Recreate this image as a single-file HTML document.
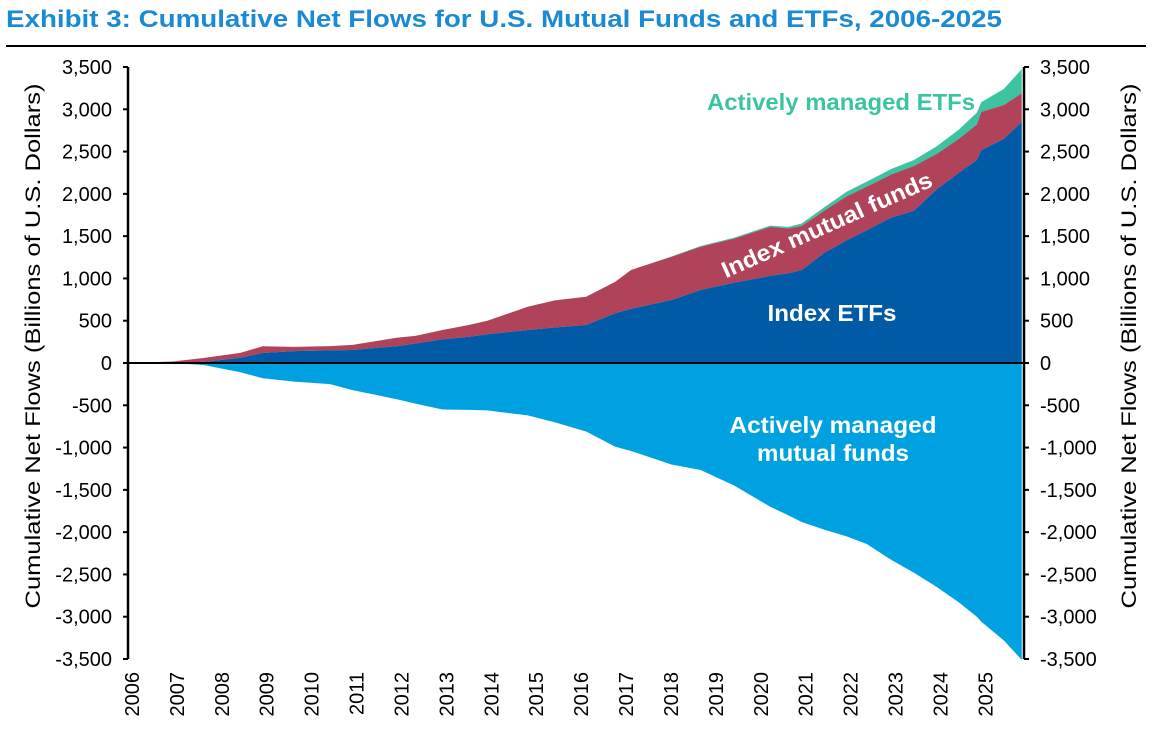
<!DOCTYPE html>
<html><head><meta charset="utf-8"><style>
body{margin:0;background:#fff;}
svg text{font-family:"Liberation Sans",Arial,sans-serif;}
</style></head><body>
<svg id="chart" width="1156" height="733" viewBox="0 0 1156 733" xmlns="http://www.w3.org/2000/svg">
<text x="6" y="27" font-size="24" font-weight="bold" fill="#1a8ad4" textLength="996" lengthAdjust="spacingAndGlyphs">Exhibit 3: Cumulative Net Flows for U.S. Mutual Funds and ETFs, 2006-2025</text>
<line x1="6" y1="46" x2="1146" y2="46" stroke="#000" stroke-width="2"/>
<g id="plot"></g>
<text transform="translate(40,346) rotate(-90)" text-anchor="middle" font-size="21" fill="#000" textLength="525" lengthAdjust="spacingAndGlyphs">Cumulative Net Flows (Billions of U.S. Dollars)</text>
<text transform="translate(1136,346) rotate(-90)" text-anchor="middle" font-size="21" fill="#000" textLength="525" lengthAdjust="spacingAndGlyphs">Cumulative Net Flows (Billions of U.S. Dollars)</text>
</svg>
<script>
const years = [2006,2007,2007.7,2008.5,2009,2009.7,2010.5,2011,2012,2012.4,2013,2013.6,2014,2014.9,2015.5,2016.2,2016.85,2017.2,2018.1,2018.75,2019.5,2020.3,2020.7,2021,2021.5,2022,2022.45,2023,2023.5,2024,2024.5,2024.9,2025,2025.5,2025.9];
const indexEtfs = [0,3,15,60,118,140,150,154,200,230,280,311,340,390,420,450,590,640,745,863,950,1030,1060,1100,1300,1450,1570,1720,1800,2050,2250,2400,2517,2650,2850];
const indexMutualFunds = [0,15,45,60,80,50,50,60,100,90,110,140,160,275,320,334,370,460,510,512,520,580,530,520,500,520,515,510,530,420,400,420,453,400,340];
const activeEtfs = [0,0,0,0,0,0,0,0,0,0,0,0,0,0,0,0,0,0,5,8,12,15,20,30,40,55,60,65,70,90,110,140,115,190,285];
const activeMutualFunds = [0,0,-25,-110,-180,-220,-250,-320,-430,-480,-550,-555,-560,-620,-700,-810,-990,-1040,-1200,-1265,-1450,-1700,-1800,-1880,-1970,-2050,-2140,-2330,-2480,-2645,-2830,-3000,-3060,-3280,-3510];
const yTicks = [3500,3000,2500,2000,1500,1000,500,0,-500,-1000,-1500,-2000,-2500,-3000,-3500];
const xTickYears = [2006,2007,2008,2009,2010,2011,2012,2013,2014,2015,2016,2017,2018,2019,2020,2021,2022,2023,2024,2025];

const X0=128, X1=1024, Y0=67, Y1=659;
const x = t => X0 + (t-2006)*(X1-X0)/(2025.95-2006);
const y = v => Y0 + (3500-v)*(Y1-Y0)/7000;
const NS='http://www.w3.org/2000/svg';
const plot=document.getElementById('plot');
function mk(tag,attrs){const e=document.createElementNS(NS,tag);for(const k in attrs)e.setAttribute(k,attrs[k]);plot.appendChild(e);return e;}
function band(lo,hi,fill,name){
  let d='M'+x(years[0])+','+y(hi[0]);
  for(let i=1;i<years.length;i++) d+='L'+x(years[i])+','+y(hi[i]);
  for(let i=years.length-1;i>=0;i--) d+='L'+x(years[i])+','+y(lo[i]);
  const p=mk('path',{d:d+'Z',fill:fill});
  
  
}
const zero=years.map(()=>0);
const s1=indexEtfs;
const s2=indexEtfs.map((v,i)=>v+indexMutualFunds[i]);
const s3=s2.map((v,i)=>v+activeEtfs[i]);
band(s2,s3,'#3cc4a0','area-active-etfs');
band(s1,s2,'#b0435a','area-index-mutual-funds');
band(zero,s1,'#005aa5','area-index-etfs');
band(activeMutualFunds,zero,'#00a1e0','area-active-mutual-funds');
const zl=mk('line',{x1:X0,x2:X1,y1:y(0),y2:y(0),stroke:'#000','stroke-width':2});


[[X0,-5,'end','left',-16],[X1,5,'start','right',16]].forEach(([ax,dx,anc,side,off])=>{
  const l=mk('line',{x1:ax,x2:ax,y1:Y0,y2:Y1,stroke:'#000','stroke-width':2.5});
  
  
  yTicks.forEach(v=>{
    const t=mk('line',{x1:ax,x2:ax+dx,y1:y(v),y2:y(v),stroke:'#000','stroke-width':2});
    
    
    const tx=mk('text',{x:ax+off,y:y(v)+7,'text-anchor':anc,'font-size':20,fill:'#000'});
    tx.textContent=v.toLocaleString('en-US');
    
    
  });
});
xTickYears.forEach(yr=>{
  const cx=x(yr)+4;
  const t=mk('text',{transform:'translate('+(cx+7)+',672) rotate(-90)','text-anchor':'end','font-size':20,fill:'#000'});
  t.textContent=yr;
  
  
});
function lbl(txt,attrs,name){const t=mk('text',Object.assign({'font-size':23,'font-weight':'bold','text-anchor':'middle','lengthAdjust':'spacingAndGlyphs'},attrs));t.textContent=txt;}
lbl('Actively managed ETFs',{x:841,y:110,fill:'#3cc4a0',textLength:268},'label-active-etfs');
lbl('Index mutual funds',{transform:'translate(830,232) rotate(-24)',fill:'#fff',textLength:228},'label-index-mutual-funds');
lbl('Index ETFs',{x:832,y:321,fill:'#fff',textLength:129},'label-index-etfs');
lbl('Actively managed',{x:833,y:433,fill:'#fff',textLength:207},'label-active-mutual-funds-1');
lbl('mutual funds',{x:833,y:461,fill:'#fff',textLength:152},'label-active-mutual-funds-2');
</script>
</body></html>
